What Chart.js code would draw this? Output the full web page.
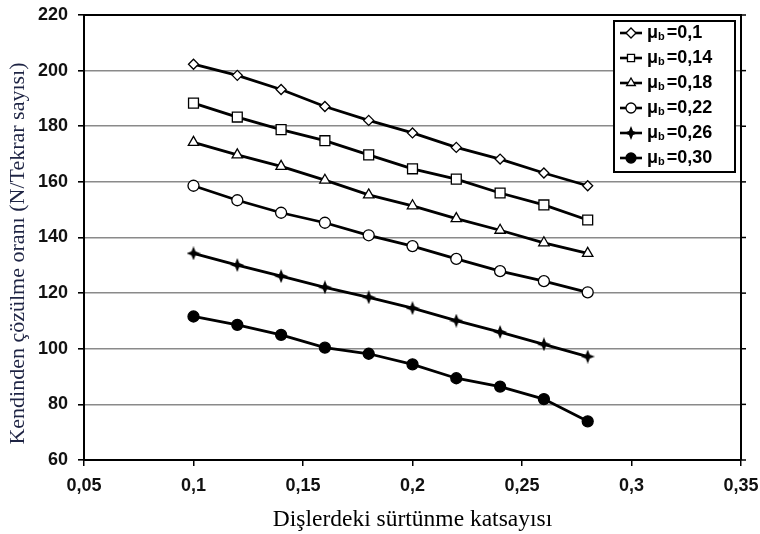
<!DOCTYPE html>
<html>
<head>
<meta charset="utf-8">
<script src="https://cdn.jsdelivr.net/npm/chart.js@4.4.1/dist/chart.umd.min.js"></script>
<style>
  html, body { margin: 0; padding: 0; background: #fff; }
  #wrap { width: 760px; height: 534px; }
</style>
</head>
<body>
<div id="wrap"><canvas id="chart" width="760" height="534"></canvas></div>
<script>
// data
const xValues = [0.10, 0.12, 0.14, 0.16, 0.18, 0.20, 0.22, 0.24, 0.26, 0.28];
const mu010 = [202.3, 198.3, 193.2, 187.1, 182.1, 177.6, 172.4, 168.2, 163.2, 158.6];
const mu014 = [188.3, 183.3, 178.8, 174.8, 169.7, 164.7, 161.0, 156.0, 151.7, 146.3];
const mu018 = [174.2, 169.7, 165.6, 160.6, 155.3, 151.4, 146.8, 142.6, 138.1, 134.3];
const mu022 = [158.6, 153.4, 148.9, 145.3, 140.8, 136.9, 132.3, 127.9, 124.3, 120.3];
const mu026 = [134.3, 130.1, 126.1, 122.1, 118.5, 114.6, 110.1, 106.0, 101.6, 97.2];
const mu030 = [111.6, 108.6, 105.0, 100.4, 98.2, 94.4, 89.4, 86.4, 81.9, 73.9];
const seriesLabels = ["0,1", "0,14", "0,18", "0,22", "0,26", "0,30"];
const xTitle = "Dişlerdeki sürtünme katsayısı";
const yTitle = "Kendinden çözülme oranı (N/Tekrar sayısı)";

const sansBold = "'Liberation Sans', Arial, sans-serif";
const serif = "'Liberation Serif', 'Times New Roman', serif";

// four-point star marker for mu = 0,26
const star = document.createElement("canvas");
star.width = 14; star.height = 14;
(() => {
  const c = star.getContext("2d");
  c.fillStyle = "#000";
  c.beginPath();
  c.moveTo(7, 0); c.lineTo(9, 5); c.lineTo(14, 7); c.lineTo(9, 9);
  c.lineTo(7, 14); c.lineTo(5, 9); c.lineTo(0, 7); c.lineTo(5, 5);
  c.closePath();
  c.fill();
})();

const toPoints = (ys) => ys.map((y, i) => ({ x: xValues[i], y: y }));

const styles = [
  { pointStyle: "rectRot", pointRadius: 5, pointBackgroundColor: "#fff" },
  { pointStyle: "rect", pointRadius: 7, pointBackgroundColor: "#fff" },
  { pointStyle: "triangle", pointRadius: 6, pointBackgroundColor: "#fff" },
  { pointStyle: "circle", pointRadius: 5.5, pointBackgroundColor: "#fff" },
  { pointStyle: star, pointRadius: 7, pointBackgroundColor: "#000" },
  { pointStyle: "circle", pointRadius: 5.5, pointBackgroundColor: "#000" },
];

const allSeries = [mu010, mu014, mu018, mu022, mu026, mu030];

const datasets = allSeries.map((ys, i) => Object.assign({
  label: "μb=" + seriesLabels[i],
  data: toPoints(ys),
  borderColor: "#000",
  borderWidth: 2.8,
  pointBorderColor: "#000",
  pointBorderWidth: 1.3,
  tension: 0,
}, styles[i]));

const fmt = (v) => Number(v.toFixed(2)).toString().replace(".", ",");

// frame around plot area with outward ticks on the right
const framePlugin = {
  id: "frame",
  afterDatasetsDraw(chart) {
    const { ctx, chartArea: a, scales } = chart;
    ctx.save();
    ctx.strokeStyle = "#000";
    ctx.lineWidth = 2;
    ctx.beginPath();
    ctx.moveTo(a.left, a.top);
    ctx.lineTo(a.right, a.top);
    ctx.lineTo(a.right, a.bottom);
    ctx.stroke();
    ctx.lineWidth = 1.5;
    scales.y.ticks.forEach((t) => {
      const y = scales.y.getPixelForValue(t.value);
      ctx.beginPath();
      ctx.moveTo(a.right, y);
      ctx.lineTo(a.right + 5, y);
      ctx.stroke();
    });
    ctx.restore();
  },
};

// y title drawn by hand so it can sit a bit lower than the axis centre
const yTitlePlugin = {
  id: "yTitle",
  afterDraw(chart) {
    const { ctx, chartArea: a } = chart;
    ctx.save();
    ctx.translate(18, (a.top + a.bottom) / 2 + 16);
    ctx.rotate(-Math.PI / 2);
    ctx.fillStyle = "#1e2444";
    ctx.font = "22px " + serif;
    ctx.textAlign = "center";
    ctx.textBaseline = "middle";
    ctx.fillText(yTitle, 0, 0);
    ctx.restore();
  },
};

// legend with subscript b
const legendPlugin = {
  id: "muLegend",
  afterDraw(chart) {
    const { ctx, chartArea: a } = chart;
    const w = 121, h = 151;
    const bx = a.right - 6 - w, by = a.top + 6;
    ctx.save();
    ctx.fillStyle = "#fff";
    ctx.fillRect(bx, by, w, h);
    ctx.strokeStyle = "#000";
    ctx.lineWidth = 2;
    ctx.strokeRect(bx, by, w, h);
    chart.data.datasets.forEach((ds, i) => {
      const cy = by + 12 + i * 25;
      ctx.strokeStyle = "#000";
      ctx.lineWidth = 2.6;
      ctx.beginPath();
      ctx.moveTo(bx + 6, cy);
      ctx.lineTo(bx + 28, cy);
      ctx.stroke();
      if (Chart.helpers && Chart.helpers.drawPoint) {
        ctx.fillStyle = ds.pointBackgroundColor;
        ctx.strokeStyle = "#000";
        ctx.lineWidth = 1.3;
        Chart.helpers.drawPoint(ctx, {
          pointStyle: ds.pointStyle,
          radius: Math.min(ds.pointRadius, 5),
          rotation: 0,
          borderWidth: 1.3,
        }, bx + 17, cy);
      }
      ctx.fillStyle = "#000";
      ctx.textBaseline = "middle";
      ctx.textAlign = "left";
      let tx = bx + 33;
      ctx.font = "bold 18px " + sansBold;
      ctx.fillText("μ", tx, cy);
      tx += ctx.measureText("μ").width;
      ctx.font = "bold 11px " + sansBold;
      ctx.fillText("b", tx, cy + 4);
      tx += ctx.measureText("b").width + 2;
      ctx.font = "bold 18px " + sansBold;
      ctx.fillText("=" + seriesLabels[i], tx, cy);
    });
    ctx.restore();
  },
};

new Chart(document.getElementById("chart").getContext("2d"), {
  type: "line",
  data: { datasets: datasets },
  options: {
    responsive: false,
    animation: false,
    layout: { padding: { top: 15, right: 19, left: 0, bottom: 0 } },
    plugins: {
      legend: { display: false },
      tooltip: { enabled: false },
    },
    scales: {
      x: {
        type: "linear",
        min: 0.05,
        max: 0.35,
        ticks: {
          stepSize: 0.05,
          color: "#111",
          font: { family: sansBold, size: 18, weight: "bold" },
          padding: 9,
          callback: (v) => fmt(v),
        },
        grid: { drawOnChartArea: false, drawTicks: true, tickLength: 6, color: "#000", lineWidth: 1.5 },
        border: { color: "#000", width: 2 },
        title: {
          display: true,
          text: xTitle,
          color: "#000",
          font: { family: serif, size: 23.5 },
          padding: { top: 4, bottom: 0 },
        },
        afterFit: (s) => { s.height = 74; s.paddingLeft = 0; s.paddingRight = 0; },
      },
      y: {
        min: 60,
        max: 220,
        ticks: {
          stepSize: 20,
          color: "#111",
          font: { family: sansBold, size: 18, weight: "bold" },
          padding: 10,
        },
        grid: {
          color: (c) => (c.tick && c.tick.value === 220 ? "#444" : "#8a8a8a"),
          lineWidth: 1.6,
          tickColor: "#000",
          tickLength: 6,
        },
        border: { color: "#000", width: 2 },
        afterFit: (s) => { s.width = 84; s.paddingTop = 0; s.paddingBottom = 0; },
      },
    },
  },
  plugins: [framePlugin, yTitlePlugin, legendPlugin],
});
</script>
</body>
</html>
